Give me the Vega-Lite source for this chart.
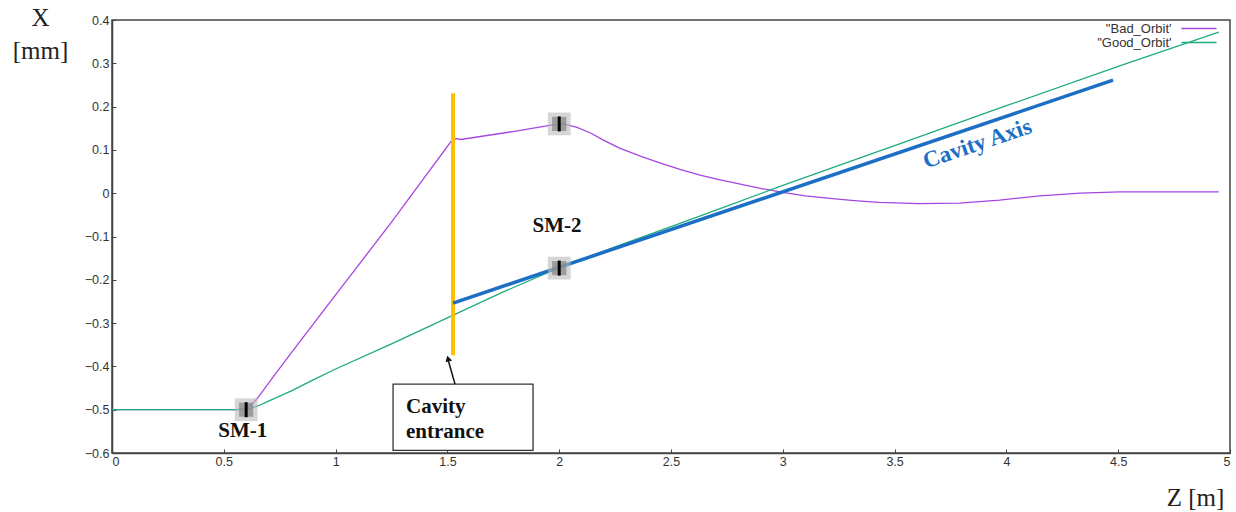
{
  "$schema": "https://vega.github.io/schema/vega-lite/v6.json",
  "width": 1118,
  "height": 433,
  "autosize": {"type": "none"},
  "padding": {"left": 112, "top": 20, "right": 6, "bottom": 59},
  "background": "white",
  "config": {
    "view": {"stroke": "#444", "strokeWidth": 1.5},
    "axis": {
      "grid": false,
      "domainColor": "#444",
      "domainWidth": 1.5,
      "tickColor": "#444",
      "tickSize": -4,
      "labelFont": "Liberation Sans",
      "labelFontSize": 12.5,
      "labelColor": "#333",
      "titleFont": "Liberation Serif",
      "titleFontWeight": "normal",
      "titleFontSize": 25,
      "titleColor": "#222"
    }
  },
  "datasets": {
    "orbits": [
      {"series": "\"Bad_Orbit'", "z": 0, "x": -0.5},
      {"series": "\"Bad_Orbit'", "z": 0.56, "x": -0.5},
      {"series": "\"Bad_Orbit'", "z": 0.59, "x": -0.498},
      {"series": "\"Bad_Orbit'", "z": 0.62, "x": -0.49},
      {"series": "\"Bad_Orbit'", "z": 0.65, "x": -0.474},
      {"series": "\"Bad_Orbit'", "z": 0.68, "x": -0.453},
      {"series": "\"Bad_Orbit'", "z": 0.72, "x": -0.425},
      {"series": "\"Bad_Orbit'", "z": 0.8, "x": -0.37},
      {"series": "\"Bad_Orbit'", "z": 1.0, "x": -0.235},
      {"series": "\"Bad_Orbit'", "z": 1.25, "x": -0.067},
      {"series": "\"Bad_Orbit'", "z": 1.52, "x": 0.122},
      {"series": "\"Bad_Orbit'", "z": 1.54, "x": 0.126},
      {"series": "\"Bad_Orbit'", "z": 1.56, "x": 0.124},
      {"series": "\"Bad_Orbit'", "z": 1.8, "x": 0.143},
      {"series": "\"Bad_Orbit'", "z": 1.97, "x": 0.158},
      {"series": "\"Bad_Orbit'", "z": 2.02, "x": 0.16},
      {"series": "\"Bad_Orbit'", "z": 2.08, "x": 0.152},
      {"series": "\"Bad_Orbit'", "z": 2.14, "x": 0.139},
      {"series": "\"Bad_Orbit'", "z": 2.2, "x": 0.122},
      {"series": "\"Bad_Orbit'", "z": 2.27, "x": 0.104},
      {"series": "\"Bad_Orbit'", "z": 2.36, "x": 0.086},
      {"series": "\"Bad_Orbit'", "z": 2.45, "x": 0.07},
      {"series": "\"Bad_Orbit'", "z": 2.54, "x": 0.055},
      {"series": "\"Bad_Orbit'", "z": 2.63, "x": 0.042},
      {"series": "\"Bad_Orbit'", "z": 2.72, "x": 0.031},
      {"series": "\"Bad_Orbit'", "z": 2.81, "x": 0.021},
      {"series": "\"Bad_Orbit'", "z": 2.9, "x": 0.011},
      {"series": "\"Bad_Orbit'", "z": 3.0, "x": 0.002},
      {"series": "\"Bad_Orbit'", "z": 3.1, "x": -0.006},
      {"series": "\"Bad_Orbit'", "z": 3.21, "x": -0.012},
      {"series": "\"Bad_Orbit'", "z": 3.32, "x": -0.017},
      {"series": "\"Bad_Orbit'", "z": 3.43, "x": -0.021},
      {"series": "\"Bad_Orbit'", "z": 3.61, "x": -0.024},
      {"series": "\"Bad_Orbit'", "z": 3.79, "x": -0.023},
      {"series": "\"Bad_Orbit'", "z": 3.97, "x": -0.016},
      {"series": "\"Bad_Orbit'", "z": 4.15, "x": -0.006},
      {"series": "\"Bad_Orbit'", "z": 4.33, "x": 0.0},
      {"series": "\"Bad_Orbit'", "z": 4.51, "x": 0.003},
      {"series": "\"Bad_Orbit'", "z": 4.95, "x": 0.003},
      {"series": "\"Good_Orbit'", "z": 0, "x": -0.5},
      {"series": "\"Good_Orbit'", "z": 0.55, "x": -0.5},
      {"series": "\"Good_Orbit'", "z": 0.6, "x": -0.499},
      {"series": "\"Good_Orbit'", "z": 0.65, "x": -0.492},
      {"series": "\"Good_Orbit'", "z": 0.7, "x": -0.48},
      {"series": "\"Good_Orbit'", "z": 0.8, "x": -0.457},
      {"series": "\"Good_Orbit'", "z": 0.9, "x": -0.431},
      {"series": "\"Good_Orbit'", "z": 1.0, "x": -0.406},
      {"series": "\"Good_Orbit'", "z": 1.25, "x": -0.348},
      {"series": "\"Good_Orbit'", "z": 1.5, "x": -0.288},
      {"series": "\"Good_Orbit'", "z": 1.75, "x": -0.228},
      {"series": "\"Good_Orbit'", "z": 2.0, "x": -0.172},
      {"series": "\"Good_Orbit'", "z": 2.25, "x": -0.124},
      {"series": "\"Good_Orbit'", "z": 2.5, "x": -0.077},
      {"series": "\"Good_Orbit'", "z": 2.75, "x": -0.03},
      {"series": "\"Good_Orbit'", "z": 3.0, "x": 0.018},
      {"series": "\"Good_Orbit'", "z": 3.5, "x": 0.11},
      {"series": "\"Good_Orbit'", "z": 4.0, "x": 0.202},
      {"series": "\"Good_Orbit'", "z": 4.5, "x": 0.293},
      {"series": "\"Good_Orbit'", "z": 4.95, "x": 0.372}
    ],
    "markers": [
      {"name": "SM-1", "z": 0.6, "x": -0.5},
      {"name": "SM-2a", "z": 2.0, "x": 0.16},
      {"name": "SM-2b", "z": 2.0, "x": -0.173}
    ],
    "labels": [
      {"text": "SM-1", "z": 0.585, "x": -0.549},
      {"text": "SM-2", "z": 1.99, "x": -0.076}
    ],
    "entrance": [{"z": 1.525, "x": -0.374, "x2": 0.231}],
    "axisline": [{"z": 1.525, "z2": 4.477, "x": -0.254, "x2": 0.261}],
    "box": [{"z": 1.257, "z2": 1.883, "x": -0.441, "x2": -0.594}],
    "boxtext": [
      {"text": "Cavity", "z": 1.315, "x": -0.494},
      {"text": "entrance", "z": 1.315, "x": -0.551}
    ],
    "arrow": [{"z": 1.534, "z2": 1.505, "x": -0.441, "x2": -0.388}],
    "arrowhead": [{"z": 1.503, "x": -0.382}],
    "axistext": [{"text": "Cavity Axis", "z": 3.87, "x": 0.114}]
  },
  "layer": [
    {
      "data": {"name": "orbits"},
      "mark": {"type": "line", "strokeWidth": 1.3},
      "encoding": {
        "x": {
          "field": "z", "type": "quantitative",
          "scale": {"domain": [0, 5], "nice": false, "zero": false},
          "axis": {"values": [0, 0.5, 1, 1.5, 2, 2.5, 3, 3.5, 4, 4.5, 5], "format": "~g", "title": "Z [m]", "titleAngle": 0, "titleX": 1083, "titleY": 44, "titleBaseline": "middle", "titleAlign": "center", "labelPadding": 6}
        },
        "y": {
          "field": "x", "type": "quantitative",
          "scale": {"domain": [-0.6, 0.4], "nice": false, "zero": false},
          "axis": {"values": [-0.6, -0.5, -0.4, -0.3, -0.2, -0.1, 0, 0.1, 0.2, 0.3, 0.4], "format": "~g", "title": ["X", "[mm]"], "titleAngle": 0, "titleX": -72, "titleY": -15, "titleBaseline": "top", "titleAlign": "center", "titleLineHeight": 33, "labelPadding": 7}
        },
        "color": {
          "field": "series", "type": "nominal",
          "scale": {"domain": ["\"Bad_Orbit'", "\"Good_Orbit'"], "range": ["#a546e3", "#1fab7e"]},
          "legend": {
            "title": null, "orient": "none", "legendX": 1080.5, "legendY": 2,
            "symbolType": "M-3.5,0L3.5,0", "symbolSize": 100, "symbolStrokeWidth": 1.5,
            "labelAlign": "right", "labelOffset": -34, "rowPadding": -3,
            "labelFont": "Liberation Sans", "labelFontSize": 13, "labelColor": "#333", "padding": 0
          }
        }
      }
    },
    {
      "data": {"name": "entrance"},
      "mark": {"type": "rule", "color": "#ffc000", "strokeWidth": 4},
      "encoding": {
        "x": {"field": "z", "type": "quantitative"},
        "y": {"field": "x", "type": "quantitative"},
        "y2": {"field": "x2"}
      }
    },
    {
      "data": {"name": "axisline"},
      "mark": {"type": "rule", "color": "#1b6fc4", "strokeWidth": 3.5},
      "encoding": {
        "x": {"field": "z", "type": "quantitative"},
        "x2": {"field": "z2"},
        "y": {"field": "x", "type": "quantitative"},
        "y2": {"field": "x2"}
      }
    },
    {
      "data": {"name": "markers"},
      "mark": {"type": "point", "shape": "square", "filled": true, "color": "#bbbbbb", "opacity": 0.6, "size": 520},
      "encoding": {
        "x": {"field": "z", "type": "quantitative"},
        "y": {"field": "x", "type": "quantitative"}
      }
    },
    {
      "data": {"name": "markers"},
      "mark": {"type": "point", "shape": "square", "filled": true, "color": "#888888", "opacity": 0.75, "size": 200},
      "encoding": {
        "x": {"field": "z", "type": "quantitative"},
        "y": {"field": "x", "type": "quantitative"}
      }
    },
    {
      "data": {"name": "markers"},
      "mark": {"type": "tick", "orient": "vertical", "color": "#000", "thickness": 3, "size": 15, "opacity": 1},
      "encoding": {
        "x": {"field": "z", "type": "quantitative"},
        "y": {"field": "x", "type": "quantitative"}
      }
    },
    {
      "data": {"name": "labels"},
      "mark": {"type": "text", "font": "Liberation Serif", "fontWeight": "bold", "fontSize": 21, "color": "#111", "align": "center", "baseline": "middle"},
      "encoding": {
        "x": {"field": "z", "type": "quantitative"},
        "y": {"field": "x", "type": "quantitative"},
        "text": {"field": "text"}
      }
    },
    {
      "data": {"name": "box"},
      "mark": {"type": "rect", "fill": "white", "stroke": "#333", "strokeWidth": 1.3},
      "encoding": {
        "x": {"field": "z", "type": "quantitative"},
        "x2": {"field": "z2"},
        "y": {"field": "x", "type": "quantitative"},
        "y2": {"field": "x2"}
      }
    },
    {
      "data": {"name": "boxtext"},
      "mark": {"type": "text", "font": "Liberation Serif", "fontWeight": "bold", "fontSize": 21, "color": "#111", "align": "left", "baseline": "middle"},
      "encoding": {
        "x": {"field": "z", "type": "quantitative"},
        "y": {"field": "x", "type": "quantitative"},
        "text": {"field": "text"}
      }
    },
    {
      "data": {"name": "arrow"},
      "mark": {"type": "rule", "color": "#111", "strokeWidth": 1.5},
      "encoding": {
        "x": {"field": "z", "type": "quantitative"},
        "x2": {"field": "z2"},
        "y": {"field": "x", "type": "quantitative"},
        "y2": {"field": "x2"}
      }
    },
    {
      "data": {"name": "arrowhead"},
      "mark": {"type": "point", "shape": "triangle-up", "filled": true, "color": "#111", "opacity": 1, "size": 45, "angle": -16},
      "encoding": {
        "x": {"field": "z", "type": "quantitative"},
        "y": {"field": "x", "type": "quantitative"}
      }
    },
    {
      "data": {"name": "axistext"},
      "mark": {"type": "text", "font": "Liberation Serif", "fontWeight": "bold", "fontSize": 23, "color": "#1b6fc4", "align": "center", "baseline": "middle", "angle": -18.7},
      "encoding": {
        "x": {"field": "z", "type": "quantitative"},
        "y": {"field": "x", "type": "quantitative"},
        "text": {"field": "text"}
      }
    }
  ]
}
